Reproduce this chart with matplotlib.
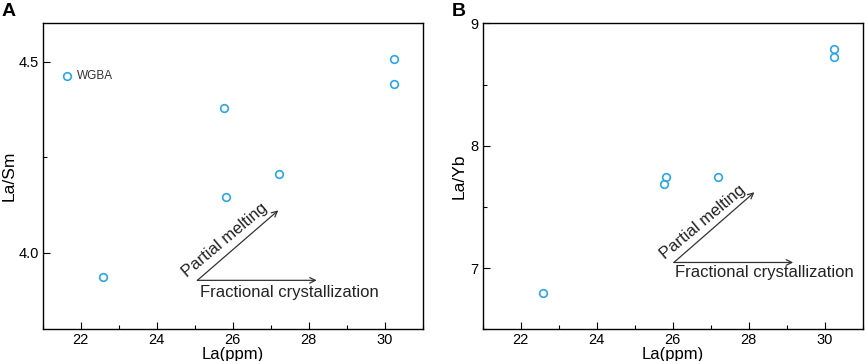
import matplotlib
matplotlib.use("Agg")
import matplotlib.pyplot as plt
from matplotlib.ticker import MultipleLocator

plt.rcParams['font.family'] = ['Liberation Sans', 'DejaVu Sans']

# Panel A data
la_a = [21.64, 22.59, 25.78, 25.82, 27.21, 30.24, 30.24]
lasm_a = [4.461, 3.937, 4.378, 4.147, 4.205, 4.506, 4.441]
# Panel B data
la_b = [22.59, 25.82, 25.77, 27.19, 30.24, 30.24]
layb_b = [6.80, 7.747, 7.69, 7.745, 8.787, 8.725]

label_wgba = "WGBA"
xlabel = "La(ppm)"

marker_color = "#2aa6e6"

fig = plt.figure(figsize=(8.65, 3.61), dpi=100)
W, H = 865, 361
axA = fig.add_axes([42.7 / W, 1 - 329.3 / H, 380 / W, 306 / H])
axB = fig.add_axes([482.7 / W, 1 - 329.3 / H, 380 / W, 306 / H])

def style(ax):
    ax.set_xlim(21, 31)
    ax.xaxis.set_major_locator(MultipleLocator(2))
    ax.xaxis.set_minor_locator(MultipleLocator(1))
    ax.tick_params(which='both', direction='in', labelsize=10.5, length=5, width=0.8)
    ax.tick_params(which='minor', length=3)
    ax.tick_params(axis='x', pad=3)
    ax.tick_params(axis='y', pad=3)
    ax.set_xlabel(xlabel, fontsize=12, labelpad=-0.5)
    for s in ax.spines.values():
        s.set_linewidth(1.0)

# Panel A
axA.plot(la_a, lasm_a, 'o', mfc='none', mec=marker_color, mew=1.2, ms=5.5, ls='none')
axA.set_ylim(3.8, 4.6)
axA.yaxis.set_major_locator(MultipleLocator(0.5))
axA.yaxis.set_minor_locator(MultipleLocator(0.25))
style(axA)
axA.set_ylabel("La/Sm", fontsize=12.5, labelpad=1)
axA.annotate(label_wgba, (la_a[0], lasm_a[0]), xytext=(7, 0), textcoords='offset points',
             va='center', ha='left', fontsize=8.5, color='#333333')
axA.annotate("", xy=(28.21, 3.928), xytext=(25.07, 3.928),
             arrowprops=dict(arrowstyle='->', color='#333333', lw=0.9, shrinkA=0, shrinkB=0))
axA.annotate("", xy=(27.2, 4.111), xytext=(25.07, 3.928),
             arrowprops=dict(arrowstyle='->', color='#333333', lw=0.9, shrinkA=0, shrinkB=0))
axA.text(25.14, 3.896, "Fractional crystallization", fontsize=12, va='center', ha='left', color='#222222')
axA.text(24.85, 3.93, "Partial melting", fontsize=12, rotation=40, rotation_mode='anchor',
         va='bottom', ha='left', color='#222222')

# Panel B
axB.plot(la_b, layb_b, 'o', mfc='none', mec=marker_color, mew=1.2, ms=5.5, ls='none')
axB.set_ylim(6.5, 9)
axB.yaxis.set_major_locator(MultipleLocator(1))
axB.yaxis.set_minor_locator(MultipleLocator(0.5))
style(axB)
axB.set_ylabel("La/Yb", fontsize=12.5, labelpad=3)
axB.annotate("", xy=(29.17, 7.046), xytext=(26.03, 7.046),
             arrowprops=dict(arrowstyle='->', color='#333333', lw=0.9, shrinkA=0, shrinkB=0))
axB.annotate("", xy=(28.15, 7.62), xytext=(26.03, 7.046),
             arrowprops=dict(arrowstyle='->', color='#333333', lw=0.9, shrinkA=0, shrinkB=0))
axB.text(26.05, 6.96, "Fractional crystallization", fontsize=12, va='center', ha='left', color='#222222')
axB.text(25.85, 7.05, "Partial melting", fontsize=12, rotation=40, rotation_mode='anchor',
         va='bottom', ha='left', color='#222222')

fig.text(2 / W, 1 - 3 / H, "A", fontsize=14, fontweight='bold', va='top', ha='left')
fig.text(452 / W, 1 - 3 / H, "B", fontsize=14, fontweight='bold', va='top', ha='left')

fig.savefig("out.png", dpi=100)
